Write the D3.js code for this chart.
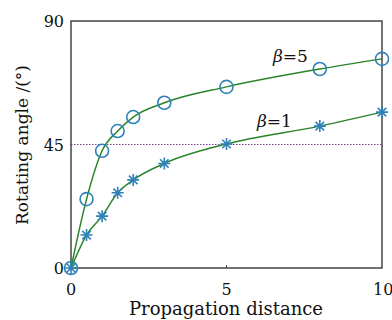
<!DOCTYPE html>
<html>
<head>
<meta charset="utf-8">
<script src="https://cdn.jsdelivr.net/npm/d3@7"></script>
<style>
  body { margin: 0; background: #fff; }
  text { font-family: "DejaVu Serif", "Liberation Serif", serif; fill: #111; }
</style>
</head>
<body>
<div id="chart"></div>
<script>
// distances sampled along propagation
const distances = [0, 0.5, 1, 1.5, 2, 3, 5, 8, 10];
// rotating angle for beta = 5 (circles)
const beta5 = [0, 25.1, 42.7, 49.9, 55.0, 60.2, 66.0, 72.5, 76.2];
// rotating angle for beta = 1 (stars)
const beta1 = [0, 12.0, 18.9, 27.4, 32.1, 38.1, 45.2, 51.7, 56.8];
const xTicks = [0, 5, 10];
const yTicks = [0, 45, 90];
const refAngle = 45;

const width = 392, height = 320;
const margin = {top: 21, right: 10, bottom: 52, left: 71};
const innerW = width - margin.left - margin.right;
const innerH = height - margin.top - margin.bottom;

const svg = d3.select('#chart').append('svg')
  .attr('width', width)
  .attr('height', height);

const g = svg.append('g')
  .attr('transform', 'translate(' + margin.left + ',' + margin.top + ')');

const xScale = d3.scaleLinear().domain([0, 10]).range([0, innerW]);
const yScale = d3.scaleLinear().domain([0, 90]).range([innerH, 0]);

// reference line at 45 degrees
g.append('line')
  .attr('x1', 0).attr('x2', innerW)
  .attr('y1', yScale(refAngle)).attr('y2', yScale(refAngle))
  .style('stroke', '#7a3d8f')
  .style('stroke-width', 1)
  .style('stroke-dasharray', '1.5,1.5');

// frame
g.append('rect')
  .attr('width', innerW).attr('height', innerH)
  .style('fill', 'none')
  .style('stroke', '#444')
  .style('stroke-width', 1.5);

// tick marks (inward, small)
g.selectAll('.xtick').data(xTicks.slice(1, -1)).enter().append('line')
  .attr('x1', d => xScale(d)).attr('x2', d => xScale(d))
  .attr('y1', innerH).attr('y2', innerH - 3)
  .style('stroke', '#444');

// tick labels
g.selectAll('.xlab').data(xTicks).enter().append('text')
  .attr('x', d => xScale(d))
  .attr('y', innerH + 27)
  .attr('text-anchor', d => d === 10 ? 'start' : 'middle')
  .attr('dx', d => d === 10 ? -9 : 0)
  .style('font-size', '16px')
  .text(d => d);

g.selectAll('.ylab').data(yTicks).enter().append('text')
  .attr('x', -7)
  .attr('y', d => yScale(d) + 6)
  .attr('text-anchor', 'end')
  .style('font-size', '16px')
  .text(d => d);

// axis titles
svg.append('text')
  .attr('x', 226).attr('y', 315)
  .attr('text-anchor', 'middle')
  .style('font-size', '18px')
  .text('Propagation distance');

svg.append('text')
  .attr('transform', 'translate(28,' + (margin.top + 124) + ') rotate(-90)')
  .attr('text-anchor', 'middle')
  .style('font-size', '17px')
  .text('Rotating angle /(°)');

const line = d3.line()
  .x(d => xScale(d[0]))
  .y(d => yScale(d[1]))
  .curve(d3.curveMonotoneX);

const lineColor = '#2a842a';
const markColor = '#2e82b8';

[beta5, beta1].forEach((series) => {
  g.append('path')
    .datum(distances.map((x, i) => [x, series[i]]))
    .attr('d', line)
    .style('fill', 'none')
    .style('stroke', lineColor)
    .style('stroke-width', 1.5);
});

// circle markers for beta = 5
g.selectAll('.circ').data(distances.map((x, i) => [x, beta5[i]])).enter().append('circle')
  .attr('cx', d => xScale(d[0]))
  .attr('cy', d => yScale(d[1]))
  .attr('r', 6.5)
  .style('fill', 'none')
  .style('stroke', markColor)
  .style('stroke-width', 1.6);

// star markers for beta = 1
const star = d => {
  const cx = xScale(d[0]), cy = yScale(d[1]), r = 6;
  let p = '';
  for (let k = 0; k < 4; k++) {
    const a = k * Math.PI / 4;
    p += 'M' + (cx + r * Math.cos(a)) + ',' + (cy + r * Math.sin(a)) +
         'L' + (cx - r * Math.cos(a)) + ',' + (cy - r * Math.sin(a));
  }
  return p;
};
g.selectAll('.star').data(distances.map((x, i) => [x, beta1[i]])).enter().append('path')
  .attr('d', star)
  .style('fill', 'none')
  .style('stroke', markColor)
  .style('stroke-width', 1.6);

// series labels
const betaLabel = (x, y, val) => {
  const t = svg.append('text')
    .attr('x', x).attr('y', y)
    .style('font-size', '17px');
  t.append('tspan').style('font-style', 'italic').text('β');
  t.append('tspan').text('=' + val);
};
betaLabel(273, 62, 5);
betaLabel(257, 127, 1);
</script>
</body>
</html>
